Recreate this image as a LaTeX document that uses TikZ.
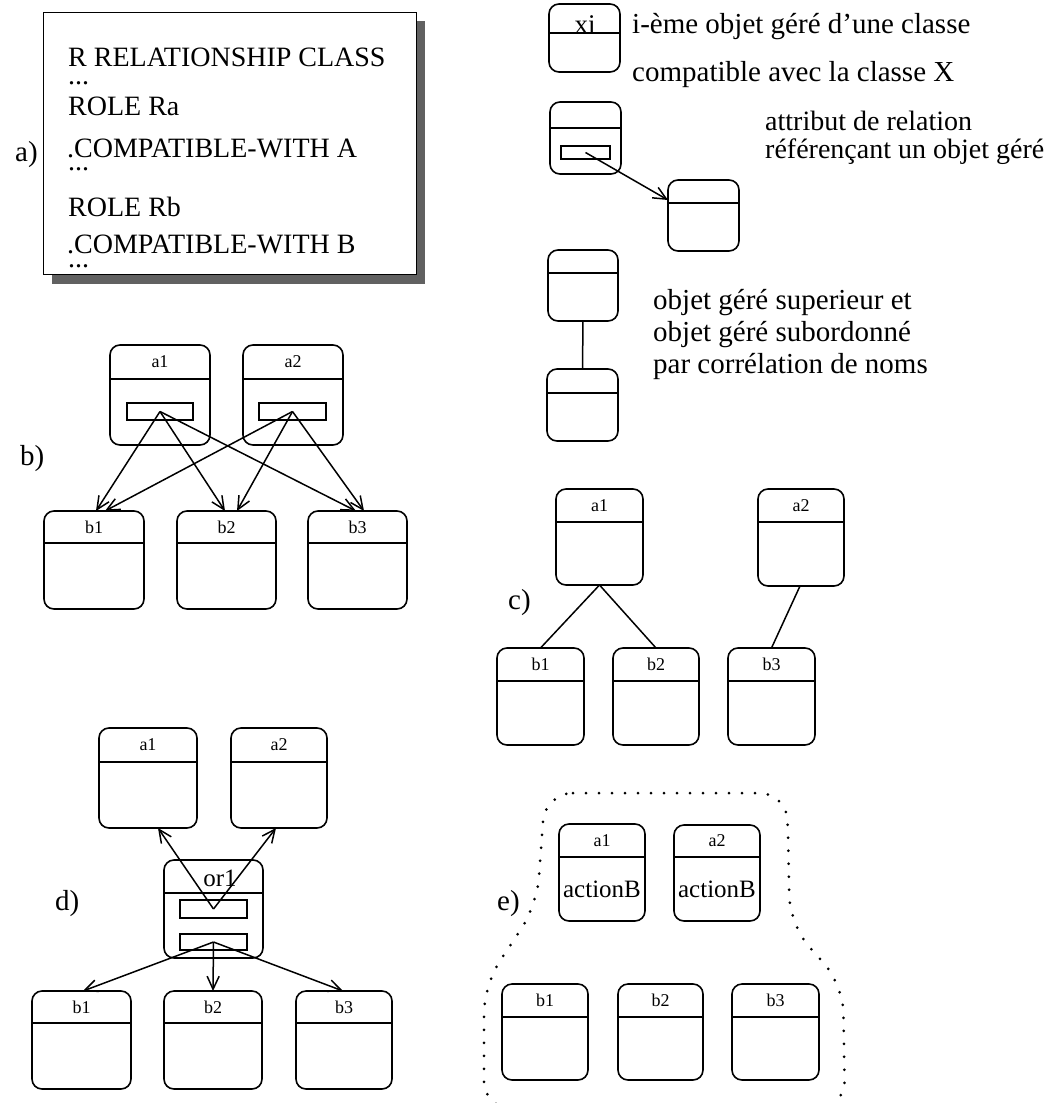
\documentclass[tikz,border=0pt]{standalone}
\usepackage{fontspec}
\setmainfont{Liberation Serif}
\usetikzlibrary{arrows.meta,calc}

% managed object: name, x1, y1, x2, y2, header y
\newcommand\mobox[6]{%
  \node[objbox, anchor=north west,
        minimum width={(#4-#2)*1pt}, minimum height={(#5-#3)*1pt}] (#1) at (#2,#3) {};
  \draw[sep] (#2,#6) -- (#4,#6);
}
% managed object with a name in its header
\newcommand\moboxl[7]{%
  \mobox{#1}{#2}{#3}{#4}{#5}{#6}%
  \node[lbl] (#1t) at ({(#2+#4)/2},{(#3+#6)/2}) {#7};
}
% relationship attribute inside an object
\newcommand\attr[5]{%
  \node[attrbox, anchor=north west,
        minimum width={(#4-#2)*1pt}, minimum height={(#5-#3)*1pt}] (#1) at (#2,#3) {};
}

\newcommand\txtbig{\fontsize{29}{33}\selectfont}
\newcommand\txtref{\fontsize{28}{32}\selectfont}
\newcommand\txtbox{\fontsize{28}{32}\selectfont}
\newcommand\txtmid{\fontsize{25}{28}\selectfont}

\begin{document}
\begin{tikzpicture}[x=1pt,y=-1pt,
  objbox/.style={draw, rounded corners=10pt, line width=1.6pt, inner sep=0pt, outer sep=0pt},
  attrbox/.style={draw, line width=1.5pt, inner sep=0pt, outer sep=0pt},
  sep/.style={line width=1.5pt},
  lbl/.style={font=\fontsize{18}{20}\selectfont, inner sep=0pt},
  txt/.style={font=\txtbig, inner sep=0pt, anchor=base west},
  spec/.style={font=\txtbox, inner sep=0pt, anchor=base west},
  link/.style={line width=1.5pt},
  refarrow/.style={line width=1.5pt, -{Straight Barb[length=13pt,width=12pt,line width=1.5pt]}},
  scopeline/.style={line width=3pt, line cap=round, dash pattern=on 0pt off 13pt, rounded corners=28pt}
]
\useasboundingbox (0,0) rectangle (1059,1103);

% ---------- a) relationship class template ----------
\fill[black!62] (52,21) rectangle (425,284);
\node[draw, fill=white, line width=1.4pt, inner sep=0pt, anchor=north west,
      minimum width=373pt, minimum height=262pt] (tmpl) at (43,12) {};
\node[spec] (t1) at (68,66) {R RELATIONSHIP CLASS};
\node[spec] (t2) at (68,84) {...};
\node[spec] (t3) at (68,115) {ROLE Ra};
\node[spec] (t4) at (67,157) {.COMPATIBLE-WITH A};
\node[spec] (t5) at (68,170) {...};
\node[spec] (t6) at (68,216) {ROLE Rb};
\node[spec] (t7) at (67,253) {.COMPATIBLE-WITH B};
\node[spec] (t8) at (68,267) {...};
\node[txt] (la) at (15,161) {a)};

% ---------- legend ----------
\mobox{lx}{549}{4}{620}{72}{33}
\node[font=\fontsize{27}{29}\selectfont, inner sep=0pt, anchor=base] (lxt) at (585,33) {xi};
\node[txt] (lx1) at (632,33) {i-ème objet géré d’une classe};
\node[txt] (lx2) at (632,81) {compatible avec la classe X};

\mobox{lr}{550}{102}{621}{174}{128}
\attr{lra}{561}{146}{610}{159}
\mobox{lt}{668}{180}{739}{251}{203}
\draw[refarrow] (lra.center) -- ([yshift=-20pt]lt.north west);
\node[txt, font=\txtref] (lr1) at (765,130) {attribut de relation};
\node[txt, font=\txtref] (lr2) at (765,158) {référençant un objet géré};

\mobox{lsup}{548}{250}{618}{321}{273}
\mobox{lsub}{547}{369}{618}{441}{393}
\draw[link] (lsup.south) -- (lsub.north);
\node[txt] (ln1) at (653,309) {objet géré superieur et};
\node[txt] (ln2) at (653,341) {objet géré subordonné};
\node[txt] (ln3) at (653,373) {par corrélation de noms};

% ---------- b) ----------
\node[txt] (lb) at (20,465) {b)};
\moboxl{ba1}{110}{345}{210}{445}{379}{a1}
\moboxl{ba2}{243}{345}{343}{445}{379}{a2}
\attr{ba1r}{127}{403}{193}{420}
\attr{ba2r}{259}{403}{326}{420}
\moboxl{bb1}{44}{511}{144}{609}{543}{b1}
\moboxl{bb2}{177}{511}{276}{609}{543}{b2}
\moboxl{bb3}{308}{511}{407}{609}{543}{b3}
\draw[refarrow] (ba1r.center) -- ([xshift=2pt]bb1.north);
\draw[refarrow] (ba1r.center) -- ([xshift=-1.5pt]bb2.north);
\draw[refarrow] (ba1r.center) -- ([xshift=-1.5pt]bb3.north);
\draw[refarrow] (ba2r.center) -- ([xshift=11pt]bb1.north);
\draw[refarrow] (ba2r.center) -- ([xshift=10.5pt]bb2.north);
\draw[refarrow] (ba2r.center) -- ([xshift=6.5pt]bb3.north);

% ---------- c) ----------
\node[txt] (lc) at (508,609) {c)};
\moboxl{ca1}{556}{489}{643}{585}{522}{a1}
\moboxl{ca2}{758}{489}{844}{586}{522}{a2}
\moboxl{cb1}{497}{648}{584}{745}{681}{b1}
\moboxl{cb2}{613}{648}{699}{745}{681}{b2}
\moboxl{cb3}{728}{648}{815}{745}{681}{b3}
\draw[link] (ca1.south) -- (cb1.north);
\draw[link] (ca1.south) -- (cb2.north);
\draw[link] ([xshift=-1pt]ca2.south) -- (cb3.north);

% ---------- d) ----------
\node[txt] (ld) at (55,910) {d)};
\moboxl{da1}{99}{728}{197}{828}{762}{a1}
\moboxl{da2}{231}{728}{327}{828}{762}{a2}
\mobox{dor}{164}{860}{263}{958}{893}
\node[font=\txtmid, inner sep=0pt, anchor=base] (dort) at (220,886) {or1};
\attr{dr1}{180}{900}{247}{918}
\attr{dr2}{180}{934}{247}{950}
\moboxl{db1}{32}{991}{131}{1089}{1023}{b1}
\moboxl{db2}{164}{991}{262}{1089}{1023}{b2}
\moboxl{db3}{296}{991}{392}{1089}{1023}{b3}
\draw[refarrow] (dr1.center) -- ([xshift=10pt]da1.south);
\draw[refarrow] (dr1.center) -- ([xshift=-3pt]da2.south);
\draw[refarrow] (dr2.center) -- ([xshift=1.5pt]db1.north);
\draw[refarrow] (dr2.center) -- (db2.north);
\draw[refarrow] (dr2.center) -- ([xshift=-1pt]db3.north);

% ---------- e) ----------
\node[txt] (le) at (497,910) {e)};
\draw[scopeline] (545,793) -- (787,793) -- (790,925) -- (843,985) -- (845,1109)
  -- (484,1109) -- (484,985) -- (537,905) -- cycle;
\moboxl{ea1}{559}{824}{645}{921}{857}{a1}
\moboxl{ea2}{674}{825}{760}{921}{857}{a2}
\node[font=\txtmid, inner sep=0pt, anchor=base] (ea1b) at (602,897) {actionB};
\node[font=\txtmid, inner sep=0pt, anchor=base] (ea2b) at (717,897) {actionB};
\moboxl{eb1}{502}{984}{588}{1080}{1017}{b1}
\moboxl{eb2}{618}{984}{703}{1080}{1017}{b2}
\moboxl{eb3}{732}{984}{819}{1080}{1017}{b3}
\end{tikzpicture}
\end{document}
